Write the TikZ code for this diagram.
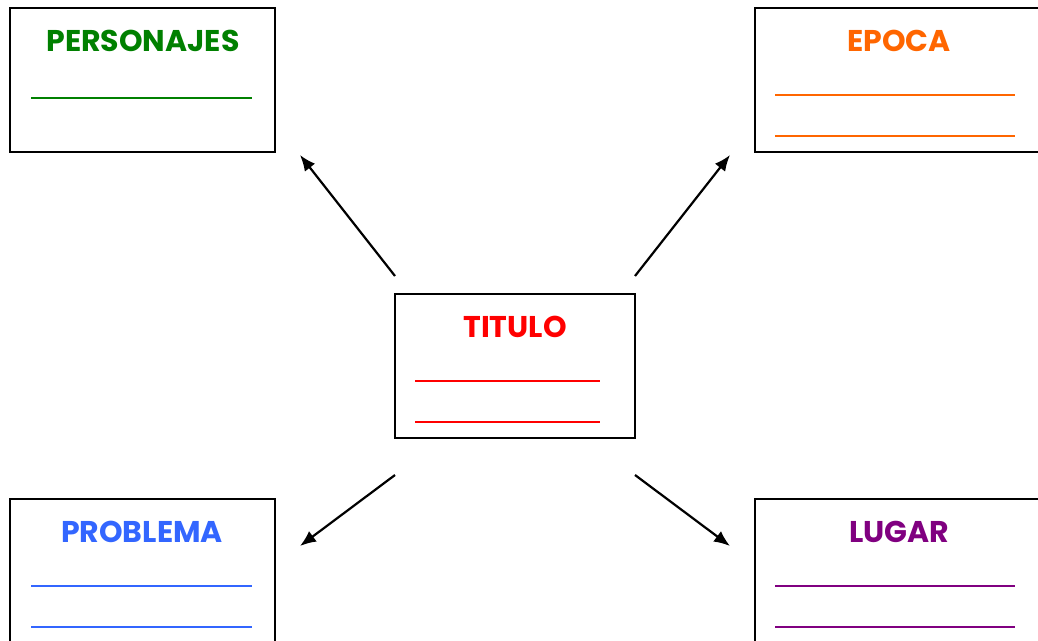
\documentclass[tikz,border=0pt]{standalone}
\usepackage{fontspec}
\setmainfont{Poppins}
\usetikzlibrary{arrows.meta}
\definecolor{cgreen}{RGB}{0,128,0}
\definecolor{corange}{RGB}{255,102,0}
\definecolor{cred}{RGB}{255,0,0}
\definecolor{cblue}{RGB}{51,102,255}
\definecolor{cpurple}{RGB}{128,0,128}
\tikzset{
  card/.style={draw=black, line width=2pt},
  ttl/.style={font=\fontsize{30}{32}\selectfont\bfseries, inner sep=0pt, anchor=center},
  blank/.style={line width=2.8pt},
  conn/.style={line width=2.2pt, -{Latex[length=16pt,width=13pt]}}
}
\begin{document}
\begin{tikzpicture}[x=1pt,y=-1pt]
\useasboundingbox (0,0) rectangle (1038,640);
% boxes
\draw[card] (10,8) rectangle (275,152);
\draw[card] (755,8) rectangle (1050,152);
\draw[card] (395,294) rectangle (635,438);
\draw[card] (10,499) rectangle (275,660);
\draw[card] (755,499) rectangle (1050,660);
% titles
\node[ttl, text=cgreen] (per) at (143,41) {PERSONAJES};
\node[ttl, text=corange] (epo) at (899,41) {EPOCA};
\node[ttl, text=cred] (tit) at (515,327) {TITULO};
\node[ttl, text=cblue] (pro) at (142,532) {PROBLEMA};
\node[ttl, text=cpurple] (lug) at (899,532) {LUGAR};
% blanks
\draw[blank, cgreen] (31,98) -- (252,98);
\draw[blank, corange] (775,95) -- (1015,95);
\draw[blank, corange] (775,136) -- (1015,136);
\draw[blank, cred] (415,381) -- (600,381);
\draw[blank, cred] (415,422) -- (600,422);
\draw[blank, cblue] (31,586) -- (252,586);
\draw[blank, cblue] (31,627) -- (252,627);
\draw[blank, cpurple] (775,586) -- (1015,586);
\draw[blank, cpurple] (775,627) -- (1015,627);
% connector endpoints
\coordinate (c1s) at (395,276); \coordinate (c1e) at (300,155);
\coordinate (c2s) at (635,276); \coordinate (c2e) at (730,155);
\coordinate (c3s) at (395,475); \coordinate (c3e) at (300,546);
\coordinate (c4s) at (635,475); \coordinate (c4e) at (730,546);
\draw[conn] (c1s) -- (c1e);
\draw[conn] (c2s) -- (c2e);
\draw[conn] (c3s) -- (c3e);
\draw[conn] (c4s) -- (c4e);
\end{tikzpicture}
\end{document}
